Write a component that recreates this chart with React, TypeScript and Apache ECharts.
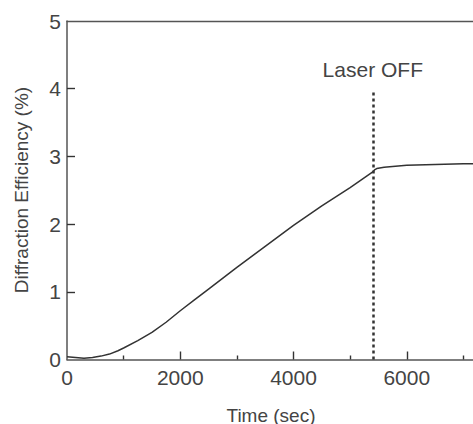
import React, { useEffect, useRef } from "react";
import * as echarts from "echarts";

const timeSec = [0, 150, 300, 450, 600, 750, 900, 1000, 1250, 1500, 1750, 2000, 2250, 2500, 3000, 3500, 4000, 4500, 5000, 5400, 5430, 5470, 5600, 6000, 6500, 7000, 7500, 8000];
const efficiency = [0.04, 0.03, 0.02, 0.03, 0.05, 0.08, 0.13, 0.17, 0.28, 0.4, 0.55, 0.72, 0.88, 1.04, 1.36, 1.67, 1.98, 2.27, 2.54, 2.77, 2.8, 2.82, 2.84, 2.87, 2.88, 2.89, 2.89, 2.9];
const xMajorTicks = [2000, 4000, 6000];
const xMinorTicks = [1000, 3000, 5000, 7000];
const yMajorTicks = [1, 2, 3, 4];
const laserOffTime = 5400;
const laserOffTop = 3.95;
const laserOffLabel = "Laser OFF";
const xTitle = "Time (sec)";
const yTitle = "Diffraction Efficiency (%)";

const FONT = "'Liberation Sans', Arial, sans-serif";
const TEXT = "#444";
const AXIS = "#555";

// tick lengths expressed in axis units (8px major, 4px minor)
const X_MAX = 8000;
const Y_MAX = 5;
const GRID_W = 453;
const GRID_H = 338.5;
const MAJOR_PX = 8;
const MINOR_PX = 4;

export default function App() {
  const ref = useRef<HTMLDivElement>(null);
  useEffect(() => {
    if (!ref.current) return;
    const chart = echarts.init(ref.current, null, { renderer: "svg" });
    const data = timeSec.map((t, i) => [t, efficiency[i]]);
    const yUnitPerPx = Y_MAX / GRID_H;
    const xUnitPerPx = X_MAX / GRID_W;
    const tickLines: any[] = [
      ...xMajorTicks.map((v) => [{ coord: [v, 0] }, { coord: [v, MAJOR_PX * yUnitPerPx] }]),
      ...xMinorTicks.map((v) => [{ coord: [v, 0] }, { coord: [v, MINOR_PX * yUnitPerPx] }]),
      ...yMajorTicks.map((v) => [{ coord: [0, v] }, { coord: [MAJOR_PX * xUnitPerPx, v] }]),
    ];
    chart.setOption({
      animation: false,
      backgroundColor: "#fff",
      textStyle: { fontFamily: FONT },
      grid: {
        left: 67,
        top: 21,
        width: GRID_W,
        height: GRID_H,
        outerBoundsMode: "none",
        containLabel: false,
        show: false,
      },
      xAxis: [
        {
          type: "value",
          min: 0,
          max: X_MAX,
          interval: 2000,
          axisLine: { show: true, onZero: false, lineStyle: { color: AXIS, width: 1.5 } },
          axisTick: { show: false },
          splitLine: { show: false },
          axisLabel: {
            color: TEXT,
            fontSize: 21,
            fontFamily: FONT,
            margin: 7,
            showMaxLabel: false,
            formatter: (v: number) => String(v),
          },
        },
        {
          type: "value",
          position: "top",
          min: 0,
          max: X_MAX,
          interval: 2000,
          axisLine: { show: true, onZero: false, lineStyle: { color: AXIS, width: 1.3 } },
          axisTick: { show: false },
          axisLabel: { show: false },
          splitLine: { show: false },
        },
      ],
      yAxis: {
        type: "value",
        min: 0,
        max: Y_MAX,
        interval: 1,
        axisLine: { show: true, onZero: false, lineStyle: { color: AXIS, width: 1.5 } },
        axisTick: { show: false },
        splitLine: { show: false },
        axisLabel: { color: TEXT, fontSize: 21, fontFamily: FONT, margin: 6, formatter: (v: number) => String(v) },
      },
      graphic: [
        {
          type: "text",
          x: 271,
          y: 415,
          style: {
            text: xTitle,
            fontSize: 19,
            fontFamily: FONT,
            fill: TEXT,
            align: "center",
            verticalAlign: "middle",
          },
        },
        {
          type: "text",
          x: 21,
          y: 190,
          rotation: Math.PI / 2,
          style: {
            text: yTitle,
            fontSize: 19,
            fontFamily: FONT,
            fill: TEXT,
            align: "center",
            verticalAlign: "middle",
          },
        },
      ],
      series: [
        {
          type: "line",
          data,
          symbol: "none",
          smooth: false,
          lineStyle: { color: "#333", width: 1.5 },
          markLine: {
            silent: true,
            symbol: "none",
            lineStyle: { color: "#333", width: 2.5, type: [3, 3] },
            label: {
              show: true,
              position: "end",
              formatter: laserOffLabel,
              color: TEXT,
              fontSize: 21,
              fontFamily: FONT,
              distance: 12,
            },
            data: [[{ coord: [laserOffTime, 0] }, { coord: [laserOffTime, laserOffTop] }]],
          },
        },
        {
          type: "line",
          name: "ticks",
          data: [],
          symbol: "none",
          silent: true,
          markLine: {
            silent: true,
            symbol: "none",
            label: { show: false },
            lineStyle: { color: "#333", width: 1.4, type: "solid" },
            data: tickLines,
          },
        },
      ],
    });
    return () => chart.dispose();
  }, []);
  return <div ref={ref} style={{ position: "fixed", left: 0, top: 0, width: 473, height: 424 }} />;
}
